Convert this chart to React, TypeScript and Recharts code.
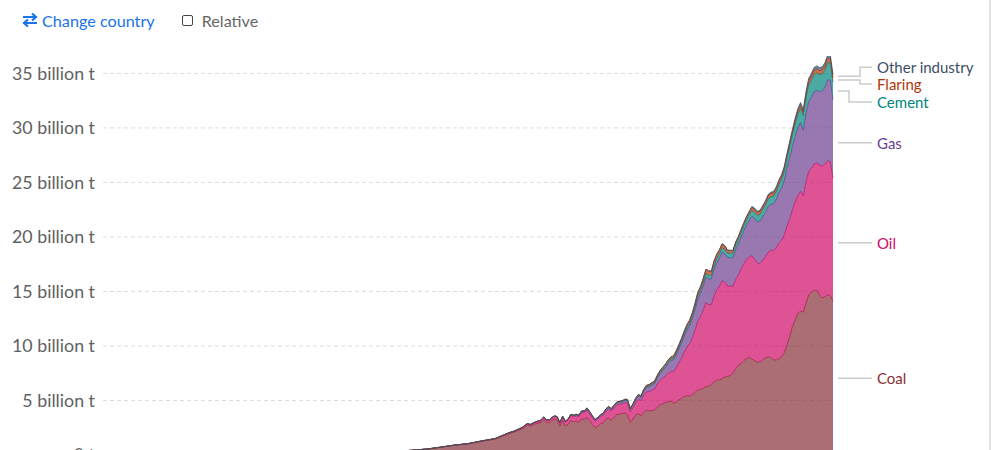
import React from 'react';
import {
  AreaChart,
  Area,
  XAxis,
  YAxis,
  CartesianGrid,
  ReferenceDot,
} from 'recharts';

// World CO2 emissions by fuel, billion tonnes
const years = [
  1750, 1760, 1770, 1780, 1790, 1800, 1810, 1820, 1830, 1840,
  1850, 1855, 1860, 1865, 1870, 1875, 1880, 1885, 1890, 1895,
  1900, 1902, 1905, 1907, 1908, 1910,
  1912, 1913, 1914, 1915, 1916, 1917, 1918, 1919,
  1920, 1921, 1922, 1923, 1924, 1925, 1926, 1927, 1928, 1929,
  1930, 1931, 1932, 1933, 1934, 1935, 1936, 1937, 1938, 1939,
  1940, 1941, 1942, 1943, 1944, 1945, 1946, 1947, 1948, 1949,
  1950, 1951, 1952, 1953, 1954, 1955, 1956, 1957, 1958, 1959,
  1960, 1961, 1962, 1963, 1964, 1965, 1966, 1967, 1968, 1969,
  1970, 1971, 1972, 1973, 1974, 1975, 1976, 1977, 1978, 1979,
  1980, 1981, 1982, 1983, 1984, 1985, 1986, 1987, 1988, 1989,
  1990, 1991, 1992, 1993, 1994, 1995, 1996, 1997, 1998, 1999,
  2000, 2001, 2002, 2003, 2004, 2005, 2006, 2007, 2008, 2009,
  2010, 2011, 2012, 2013, 2014, 2015, 2016, 2017, 2018, 2019,
  2020,
];

const coal = [
  0.01, 0.01, 0.012, 0.014, 0.017, 0.028, 0.035, 0.047, 0.08, 0.12,
  0.2, 0.27, 0.36, 0.45, 0.55, 0.72, 0.9, 1.02, 1.25, 1.45,
  1.95, 2.1, 2.4, 2.75, 2.65, 2.85,
  3.0, 3.25, 3.0, 2.95, 3.15, 3.3, 3.2, 2.65,
  3.15, 2.65, 2.8, 3.15, 3.05, 3.1, 3.0, 3.3, 3.25, 3.45,
  3.15, 2.8, 2.5, 2.65, 2.85, 2.95, 3.25, 3.4, 3.2, 3.45,
  3.7, 3.75, 3.8, 3.85, 3.7, 3.0, 3.3, 3.65, 3.8, 3.6,
  3.95, 4.1, 4.05, 4.1, 4.1, 4.4, 4.6, 4.7, 4.8, 4.9,
  4.95, 4.75, 4.85, 5.05, 5.2, 5.35, 5.45, 5.4, 5.55, 5.75,
  6.0, 6.0, 6.1, 6.3, 6.3, 6.5, 6.7, 6.85, 6.9, 7.0,
  7.15, 7.2, 7.3, 7.5, 7.9, 8.2, 8.4, 8.65, 8.85, 8.95,
  8.8, 8.65, 8.5, 8.55, 8.7, 8.9, 9.0, 8.95, 8.75, 8.7,
  8.85, 9.0, 9.4, 10.1, 10.9, 11.8, 12.4, 13.0, 13.2, 13.1,
  13.9, 14.7, 14.9, 15.1, 15.1, 14.7, 14.4, 14.5, 14.7, 14.6,
  14.1,
];

const oil = [
  0, 0, 0, 0, 0, 0, 0, 0, 0, 0,
  0, 0, 0, 0, 0.002, 0.005, 0.01, 0.02, 0.03, 0.04,
  0.06, 0.07, 0.09, 0.11, 0.12, 0.14,
  0.16, 0.17, 0.18, 0.2, 0.22, 0.24, 0.25, 0.27,
  0.33, 0.36, 0.4, 0.46, 0.48, 0.5, 0.53, 0.58, 0.62, 0.67,
  0.64, 0.62, 0.6, 0.63, 0.66, 0.7, 0.76, 0.82, 0.82, 0.87,
  0.88, 0.9, 0.88, 0.96, 1.05, 0.95, 1.05, 1.17, 1.32, 1.38,
  1.55, 1.7, 1.78, 1.85, 1.95, 2.1, 2.25, 2.35, 2.45, 2.6,
  2.7, 2.9, 3.15, 3.4, 3.7, 4.1, 4.45, 4.8, 5.2, 5.7,
  6.3, 6.7, 7.2, 7.7, 7.5, 7.3, 7.9, 8.3, 8.6, 9.0,
  8.7, 8.3, 8.2, 8.0, 8.2, 8.3, 8.7, 8.9, 9.1, 9.2,
  9.5, 9.3, 9.1, 9.0, 9.2, 9.3, 9.6, 9.85, 10.0, 10.3,
  10.6, 10.7, 10.8, 10.9, 10.8, 10.7, 10.8, 10.8, 11.0, 10.7,
  11.1, 11.3, 11.4, 11.6, 11.7, 11.9, 12.1, 12.2, 12.3, 12.3,
  11.3,
];

const gas = [
  0, 0, 0, 0, 0, 0, 0, 0, 0, 0,
  0, 0, 0, 0, 0, 0, 0, 0.005, 0.01, 0.015,
  0.02, 0.02, 0.03, 0.03, 0.03, 0.04,
  0.04, 0.05, 0.05, 0.05, 0.05, 0.05, 0.05, 0.05,
  0.06, 0.06, 0.07, 0.08, 0.08, 0.09, 0.1, 0.11, 0.12, 0.13,
  0.13, 0.12, 0.11, 0.11, 0.12, 0.13, 0.14, 0.15, 0.15, 0.16,
  0.17, 0.18, 0.19, 0.21, 0.23, 0.23, 0.24, 0.26, 0.29, 0.3,
  0.35, 0.4, 0.43, 0.47, 0.5, 0.55, 0.62, 0.7, 0.78, 0.88,
  1.0, 1.07, 1.17, 1.27, 1.37, 1.47, 1.57, 1.67, 1.77, 1.9,
  2.0, 2.1, 2.2, 2.3, 2.35, 2.35, 2.45, 2.5, 2.55, 2.6,
  2.6, 2.6, 2.6, 2.6, 2.75, 2.85, 2.85, 3.0, 3.15, 3.4,
  3.6, 3.75, 3.8, 3.9, 3.95, 4.05, 4.2, 4.2, 4.3, 4.45,
  4.6, 4.8, 5.0, 5.3, 5.6, 5.8, 6.0, 6.2, 6.3, 6.0,
  6.3, 6.4, 6.5, 6.6, 6.65, 6.75, 6.9, 7.05, 7.4, 7.5,
  7.2,
];

const cement = [
  0, 0, 0, 0, 0, 0, 0, 0, 0, 0,
  0, 0, 0, 0, 0, 0, 0, 0, 0, 0,
  0, 0, 0, 0, 0, 0.01,
  0.01, 0.02, 0.02, 0.01, 0.01, 0.01, 0.01, 0.01,
  0.02, 0.02, 0.02, 0.02, 0.03, 0.03, 0.03, 0.03, 0.04, 0.04,
  0.04, 0.03, 0.03, 0.03, 0.03, 0.03, 0.04, 0.04, 0.04, 0.05,
  0.05, 0.05, 0.05, 0.04, 0.04, 0.03, 0.04, 0.05, 0.05, 0.06,
  0.07, 0.08, 0.08, 0.09, 0.09, 0.1, 0.11, 0.12, 0.13, 0.14,
  0.15, 0.16, 0.17, 0.18, 0.2, 0.21, 0.22, 0.23, 0.25, 0.27,
  0.29, 0.3, 0.32, 0.34, 0.34, 0.34, 0.36, 0.38, 0.4, 0.41,
  0.41, 0.41, 0.41, 0.42, 0.43, 0.44, 0.46, 0.48, 0.5, 0.52,
  0.55, 0.57, 0.6, 0.62, 0.65, 0.67, 0.69, 0.7, 0.7, 0.72,
  0.75, 0.8, 0.85, 0.93, 1.0, 1.08, 1.18, 1.26, 1.3, 1.35,
  1.45, 1.55, 1.58, 1.62, 1.6, 1.55, 1.55, 1.55, 1.57, 1.58,
  1.6,
];

const flaring = [
  0, 0, 0, 0, 0, 0, 0, 0, 0, 0,
  0, 0, 0, 0, 0, 0, 0, 0, 0, 0,
  0, 0, 0, 0, 0, 0,
  0, 0, 0, 0, 0, 0, 0, 0,
  0.01, 0.01, 0.01, 0.01, 0.02, 0.02, 0.02, 0.02, 0.03, 0.03,
  0.03, 0.03, 0.03, 0.03, 0.04, 0.04, 0.04, 0.05, 0.05, 0.05,
  0.06, 0.06, 0.06, 0.06, 0.07, 0.07, 0.07, 0.08, 0.09, 0.09,
  0.1, 0.11, 0.12, 0.13, 0.14, 0.15, 0.16, 0.17, 0.17, 0.18,
  0.19, 0.2, 0.21, 0.22, 0.24, 0.25, 0.27, 0.28, 0.3, 0.32,
  0.34, 0.35, 0.37, 0.4, 0.4, 0.36, 0.39, 0.38, 0.38, 0.37,
  0.33, 0.28, 0.26, 0.25, 0.25, 0.25, 0.26, 0.25, 0.26, 0.26,
  0.25, 0.28, 0.26, 0.27, 0.27, 0.27, 0.28, 0.28, 0.28, 0.28,
  0.29, 0.29, 0.29, 0.3, 0.3, 0.3, 0.3, 0.3, 0.31, 0.31,
  0.32, 0.34, 0.35, 0.35, 0.36, 0.37, 0.37, 0.38, 0.4, 0.42,
  0.4,
];

const otherIndustry = [
  0, 0, 0, 0, 0, 0, 0, 0, 0, 0,
  0, 0, 0, 0, 0, 0, 0, 0, 0, 0,
  0, 0, 0, 0, 0, 0,
  0, 0, 0, 0, 0, 0, 0, 0,
  0, 0, 0, 0, 0, 0, 0, 0, 0, 0,
  0, 0, 0, 0, 0, 0, 0, 0, 0, 0,
  0, 0, 0, 0, 0, 0, 0, 0, 0, 0,
  0, 0, 0, 0, 0, 0, 0, 0, 0, 0,
  0, 0, 0, 0, 0, 0, 0, 0, 0, 0,
  0, 0, 0, 0, 0, 0, 0, 0, 0, 0,
  0, 0, 0, 0, 0, 0, 0, 0, 0, 0,
  0.1, 0.1, 0.1, 0.11, 0.11, 0.12, 0.12, 0.13, 0.13, 0.14,
  0.14, 0.15, 0.16, 0.17, 0.18, 0.19, 0.2, 0.21, 0.22, 0.22,
  0.24, 0.25, 0.26, 0.27, 0.28, 0.28, 0.28, 0.29, 0.3, 0.3,
  0.29,
];

const yTicks = [0, 5, 10, 15, 20, 25, 30, 35];

const series = [
  { key: 'coal', name: 'Coal', color: '#883039', values: coal },
  { key: 'oil', name: 'Oil', color: '#cf0a66', values: oil },
  { key: 'gas', name: 'Gas', color: '#6d3e91', values: gas },
  { key: 'cement', name: 'Cement', color: '#00847e', values: cement },
  { key: 'flaring', name: 'Flaring', color: '#b13507', values: flaring },
  { key: 'other', name: 'Other industry', color: '#3c4e66', values: otherIndustry },
];

// label placement next to the last year: vertical nudge and elbow position
const labelLayout: Record<string, { dy: number; elbow: number }> = {
  coal: { dy: 0, elbow: 0 },
  oil: { dy: 3, elbow: 0 },
  gas: { dy: 4, elbow: 0 },
  cement: { dy: 11, elbow: 16 },
  flaring: { dy: 4, elbow: 27 },
  other: { dy: -9, elbow: 27 },
};

const data = years.map((year, i) => {
  const row: Record<string, number> = { year };
  series.forEach((s) => {
    row[s.key] = s.values[i];
  });
  return row;
});

const lastYear = years[years.length - 1];

// middle of each band at the last year
let running = 0;
const labelMids = series.map((s) => {
  const v = s.values[s.values.length - 1];
  const mid = running + v / 2;
  running += v;
  return mid;
});

const FONT = 'Lato, "Open Sans", sans-serif';

const LeaderLabel = (props: any) => {
  const { cx, cy, name, color, dy, elbow } = props;
  if (cx == null || cy == null) return null;
  const x0 = cx + 5;
  const x1 = cx + 39;
  const ty = cy + dy;
  const path =
    dy === 0 || elbow === 0
      ? `M${x0},${ty}L${x1},${ty}`
      : `M${x0},${cy}L${cx + elbow},${cy}L${cx + elbow},${ty}L${x1},${ty}`;
  return (
    <g>
      <path d={path} stroke="#ccc" strokeWidth={1.5} fill="none" />
      <text
        x={cx + 44}
        y={ty}
        dominantBaseline="central"
        fill={color}
        fontSize={15}
        fontFamily={FONT}
      >
        {name}
      </text>
    </g>
  );
};

const Header = () => (
  <div
    style={{
      position: 'absolute',
      top: 10,
      left: 21,
      display: 'flex',
      alignItems: 'center',
      height: 20,
      fontFamily: FONT,
      fontSize: 16.2,
    }}
  >
    <svg width={18} height={16} viewBox="0 0 18 16" style={{ marginRight: 3 }}>
      <path d="M2 5H15M11 1.5L15 5L11 8.5" stroke="#1a73e8" strokeWidth={2.2} fill="none" />
      <path d="M16 11H3M7 7.5L3 11L7 14.5" stroke="#1a73e8" strokeWidth={2.2} fill="none" />
    </svg>
    <span style={{ color: '#1a73e8' }}>Change country</span>
    <span
      style={{
        display: 'inline-block',
        width: 9,
        height: 9,
        border: '1.5px solid #444',
        borderRadius: 2,
        marginLeft: 27,
        marginRight: 9,
      }}
    />
    <span style={{ color: '#666' }}>Relative</span>
  </div>
);

const App = () => {
  return (
    <div
      style={{
        position: 'absolute',
        left: 0,
        top: 0,
        width: 997,
        height: 450,
        overflow: 'hidden',
        background: '#fff',
        fontFamily: FONT,
      }}
    >
      <div style={{ position: 'absolute', left: 0, top: 0 }}>
        <AreaChart
          width={988}
          height={480}
          data={data}
          margin={{ top: 56, right: 155, bottom: 25, left: 0 }}
        >
          <CartesianGrid
            vertical={false}
            stroke="#ddd"
            strokeDasharray="4 3"
            horizontalValues={yTicks}
          />
          <XAxis
            dataKey="year"
            type="number"
            domain={[1750, 2020]}
            hide
          />
          <YAxis
            width={103}
            domain={[0, 36.6]}
            ticks={yTicks}
            allowDataOverflow
            axisLine={false}
            tickLine={false}
            tick={{ fill: '#5f5f5f', fontSize: 17.8, fontFamily: FONT }}
            tickFormatter={(v: number) => (v === 0 ? '0 t' : `${v} billion t`)}
          />
          {series.map((s) => (
            <Area
              key={s.key}
              dataKey={s.key}
              name={s.name}
              stackId="1"
              type="linear"
              stroke={s.color}
              strokeWidth={0.8}
              fill={s.color}
              fillOpacity={0.7}
              isAnimationActive={false}
            />
          ))}
          {series.map((s, i) => (
            <ReferenceDot
              key={`lbl-${s.key}`}
              x={lastYear}
              y={labelMids[i]}
              r={0}
              ifOverflow="visible"
              shape={(p: any) => (
                <LeaderLabel
                  {...p}
                  name={s.name}
                  color={s.color}
                  dy={labelLayout[s.key].dy}
                  elbow={labelLayout[s.key].elbow}
                />
              )}
            />
          ))}
        </AreaChart>
      </div>
      <Header />
      <div
        style={{
          position: 'absolute',
          left: 989,
          top: 0,
          width: 2,
          height: 450,
          background: '#e3e3e3',
        }}
      />
    </div>
  );
};

export default App;
